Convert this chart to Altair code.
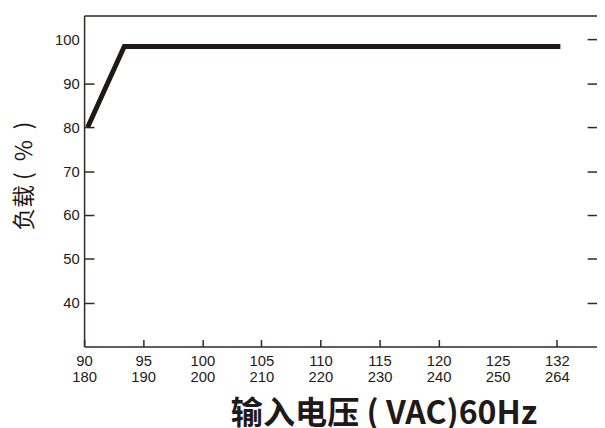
import json
import altair as alt
import pandas as pd

# Curve (x in axis-position units; the last point sits at the "132" tick)
volt_pos = [90.3, 93.4, 130.3]
load = [80, 98.4, 98.4]

x_tick_pos = [90, 95, 100, 105, 110, 115, 120, 125, 130]
x_top = ["90", "95", "100", "105", "110", "115", "120", "125", "132"]
x_bot = ["180", "190", "200", "210", "220", "230", "240", "250", "264"]
x_tick_marks = [90, 95, 100, 105, 110, 115, 120, 130]
y_label_vals = [40, 50, 60, 70, 80, 90, 100]
y_left_ticks = [40, 50, 60, 70, 80, 90]
y_right_ticks = [40, 50, 60, 70, 80, 90, 100]

df = pd.DataFrame({"v": volt_pos, "load": load})

W, H = 519, 335
INK = "#1f1a17"
AX = "#2e2826"

xs = alt.Scale(domain=[90, 133.4], nice=False, zero=False)
ys = alt.Scale(domain=[30, 105.5], nice=False, zero=False)

label_expr = (
    f"[{json.dumps(x_top)}[indexof({json.dumps(x_tick_pos)}, datum.value)], "
    f"{json.dumps(x_bot)}[indexof({json.dumps(x_tick_pos)}, datum.value)]]"
)

common_axis = dict(grid=False, domainColor=AX, domainWidth=1.5, tickColor=AX, tickWidth=1.5)

y_title = "负载\u00a0(\u00a0\u00a0％\u00a0\u00a0)"

line = alt.Chart(df).mark_line(color=INK, strokeWidth=5, strokeJoin="miter").encode(
    x=alt.X("v:Q", scale=xs, axis=alt.Axis(
        orient="bottom", values=x_tick_pos, labelExpr=label_expr, ticks=False,
        labelFont="Liberation Sans", labelFontSize=15, labelColor=INK,
        labelPadding=7, labelLineHeight=16, labelBaseline="top",
        labelFlush=False, labelOverlap=False,
        title="输入电压 ( VAC)60Hz", titleFont="Noto Sans CJK SC", titleFontSize=32.5,
        titleFontWeight="bold", titleColor=INK, titleX=303, titleY=68,
        titleAlign="center", titleBaseline="middle", **common_axis)),
    y=alt.Y("load:Q", scale=ys, axis=alt.Axis(
        orient="left", values=y_label_vals, ticks=False,
        labelFont="Liberation Sans", labelFontSize=15, labelColor=INK, labelPadding=5,
        labelOverlap=False,
        title=y_title, titleFont="Noto Sans CJK SC", titleFontSize=23,
        titleFontWeight="normal", titleColor=INK, titleAngle=270,
        titleX=-60, titleY=162, titleAlign="center", titleBaseline="middle",
        **common_axis)),
)

frame = alt.Chart(df).mark_line(opacity=0).encode(
    x=alt.X("v:Q", scale=xs, axis=alt.Axis(
        orient="top", labels=False, ticks=False, title=None, **common_axis)),
    y=alt.Y("load:Q", scale=ys, axis=alt.Axis(
        orient="left", offset=-W, values=y_right_ticks, labels=False, tickSize=10,
        domain=False, title=None, **common_axis)),
)

inner = alt.Chart(df).mark_line(opacity=0).encode(
    x=alt.X("v:Q", scale=xs, axis=alt.Axis(
        orient="top", offset=-H, values=x_tick_marks, labels=False, tickSize=7,
        domain=False, title=None, **common_axis)),
    y=alt.Y("load:Q", scale=ys, axis=alt.Axis(
        orient="right", offset=-W, values=y_left_ticks, labels=False, tickSize=10,
        domain=False, title=None, **common_axis)),
)

chart = alt.layer(line, frame, inner).resolve_axis(
    x="independent", y="independent"
).properties(
    width=W, height=H,
    padding={"left": 77, "top": 5, "right": 0, "bottom": 80},
    autosize=alt.AutoSizeParams(type="none"),
    background="white",
).configure_view(stroke=None)

chart.save("out.html", embed_options={"renderer": "svg", "actions": False})
